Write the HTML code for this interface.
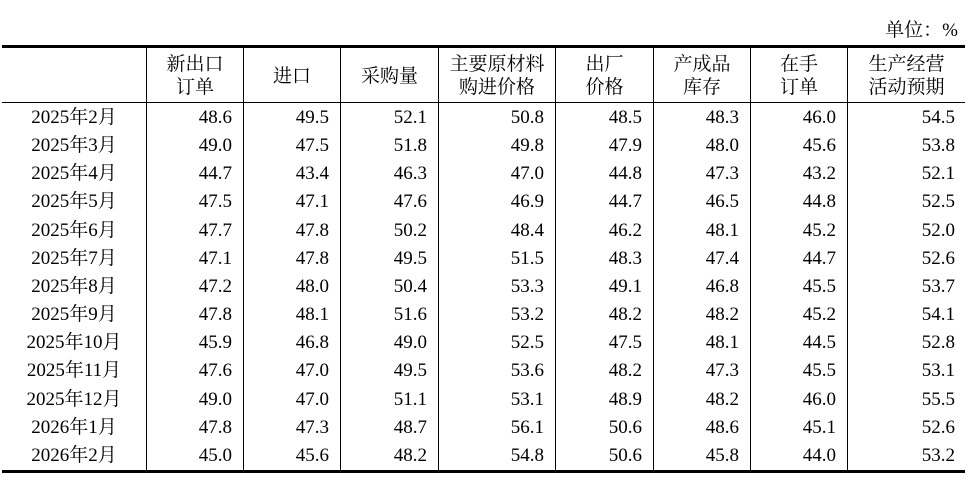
<!DOCTYPE html>
<html>
<head>
<meta charset="utf-8">
<style>
html,body{margin:0;padding:0;background:#fff;}
body{width:973px;height:485px;position:relative;overflow:hidden;
 font-family:"Liberation Serif","Noto Serif CJK SC",serif;font-size:19px;color:#000;}
.hl{position:absolute;background:#000;}
.vl{position:absolute;background:#000;width:1px;top:48px;height:422px;}
.unit{position:absolute;right:15px;top:19px;line-height:24px;white-space:nowrap;}
.h{position:absolute;top:48px;height:56px;display:flex;flex-direction:column;justify-content:center;align-items:center;line-height:23px;white-space:nowrap;}
.r{position:absolute;left:0;width:973px;height:28.15px;line-height:28.15px;}
.r div{position:absolute;top:0;white-space:nowrap;text-align:right;}
.r .c0{left:2px;width:144px;text-align:center;}
.r .c1{left:147px;width:85px;}
.r .c2{left:244px;width:85px;}
.r .c3{left:341px;width:86px;}
.r .c4{left:439px;width:105px;}
.r .c5{left:556px;width:86px;}
.r .c6{left:654px;width:85px;}
.r .c7{left:751px;width:85px;}
.r .c8{left:848px;width:107px;}
</style>
</head>
<body>
<div class="unit">单位：%</div>

<div class="hl" style="left:2px;width:963px;top:45px;height:3px;"></div>
<div class="hl" style="left:2px;width:963px;top:102px;height:1px;"></div>
<div class="hl" style="left:2px;width:963px;top:470px;height:3px;"></div>

<div class="vl" style="left:146px;"></div>
<div class="vl" style="left:243px;"></div>
<div class="vl" style="left:340px;"></div>
<div class="vl" style="left:438px;"></div>
<div class="vl" style="left:555px;"></div>
<div class="vl" style="left:653px;"></div>
<div class="vl" style="left:750px;"></div>
<div class="vl" style="left:847px;"></div>

<div class="h" style="left:147px;width:96px;"><span>新出口</span><span>订单</span></div>
<div class="h" style="left:244px;width:96px;"><span>进口</span></div>
<div class="h" style="left:341px;width:97px;"><span>采购量</span></div>
<div class="h" style="left:439px;width:116px;"><span>主要原材料</span><span>购进价格</span></div>
<div class="h" style="left:556px;width:97px;"><span>出厂</span><span>价格</span></div>
<div class="h" style="left:654px;width:96px;"><span>产成品</span><span>库存</span></div>
<div class="h" style="left:751px;width:96px;"><span>在手</span><span>订单</span></div>
<div class="h" style="left:848px;width:117px;"><span>生产经营</span><span>活动预期</span></div>

<div class="r" style="top:104px;"><div class="c0">2025年2月</div><div class="c1">48.6</div><div class="c2">49.5</div><div class="c3">52.1</div><div class="c4">50.8</div><div class="c5">48.5</div><div class="c6">48.3</div><div class="c7">46.0</div><div class="c8">54.5</div></div>
<div class="r" style="top:132.15px;"><div class="c0">2025年3月</div><div class="c1">49.0</div><div class="c2">47.5</div><div class="c3">51.8</div><div class="c4">49.8</div><div class="c5">47.9</div><div class="c6">48.0</div><div class="c7">45.6</div><div class="c8">53.8</div></div>
<div class="r" style="top:160.3px;"><div class="c0">2025年4月</div><div class="c1">44.7</div><div class="c2">43.4</div><div class="c3">46.3</div><div class="c4">47.0</div><div class="c5">44.8</div><div class="c6">47.3</div><div class="c7">43.2</div><div class="c8">52.1</div></div>
<div class="r" style="top:188.45px;"><div class="c0">2025年5月</div><div class="c1">47.5</div><div class="c2">47.1</div><div class="c3">47.6</div><div class="c4">46.9</div><div class="c5">44.7</div><div class="c6">46.5</div><div class="c7">44.8</div><div class="c8">52.5</div></div>
<div class="r" style="top:216.6px;"><div class="c0">2025年6月</div><div class="c1">47.7</div><div class="c2">47.8</div><div class="c3">50.2</div><div class="c4">48.4</div><div class="c5">46.2</div><div class="c6">48.1</div><div class="c7">45.2</div><div class="c8">52.0</div></div>
<div class="r" style="top:244.75px;"><div class="c0">2025年7月</div><div class="c1">47.1</div><div class="c2">47.8</div><div class="c3">49.5</div><div class="c4">51.5</div><div class="c5">48.3</div><div class="c6">47.4</div><div class="c7">44.7</div><div class="c8">52.6</div></div>
<div class="r" style="top:272.9px;"><div class="c0">2025年8月</div><div class="c1">47.2</div><div class="c2">48.0</div><div class="c3">50.4</div><div class="c4">53.3</div><div class="c5">49.1</div><div class="c6">46.8</div><div class="c7">45.5</div><div class="c8">53.7</div></div>
<div class="r" style="top:301.05px;"><div class="c0">2025年9月</div><div class="c1">47.8</div><div class="c2">48.1</div><div class="c3">51.6</div><div class="c4">53.2</div><div class="c5">48.2</div><div class="c6">48.2</div><div class="c7">45.2</div><div class="c8">54.1</div></div>
<div class="r" style="top:329.2px;"><div class="c0">2025年10月</div><div class="c1">45.9</div><div class="c2">46.8</div><div class="c3">49.0</div><div class="c4">52.5</div><div class="c5">47.5</div><div class="c6">48.1</div><div class="c7">44.5</div><div class="c8">52.8</div></div>
<div class="r" style="top:357.35px;"><div class="c0">2025年11月</div><div class="c1">47.6</div><div class="c2">47.0</div><div class="c3">49.5</div><div class="c4">53.6</div><div class="c5">48.2</div><div class="c6">47.3</div><div class="c7">45.5</div><div class="c8">53.1</div></div>
<div class="r" style="top:385.5px;"><div class="c0">2025年12月</div><div class="c1">49.0</div><div class="c2">47.0</div><div class="c3">51.1</div><div class="c4">53.1</div><div class="c5">48.9</div><div class="c6">48.2</div><div class="c7">46.0</div><div class="c8">55.5</div></div>
<div class="r" style="top:413.65px;"><div class="c0">2026年1月</div><div class="c1">47.8</div><div class="c2">47.3</div><div class="c3">48.7</div><div class="c4">56.1</div><div class="c5">50.6</div><div class="c6">48.6</div><div class="c7">45.1</div><div class="c8">52.6</div></div>
<div class="r" style="top:441.8px;"><div class="c0">2026年2月</div><div class="c1">45.0</div><div class="c2">45.6</div><div class="c3">48.2</div><div class="c4">54.8</div><div class="c5">50.6</div><div class="c6">45.8</div><div class="c7">44.0</div><div class="c8">53.2</div></div>
</body>
</html>
